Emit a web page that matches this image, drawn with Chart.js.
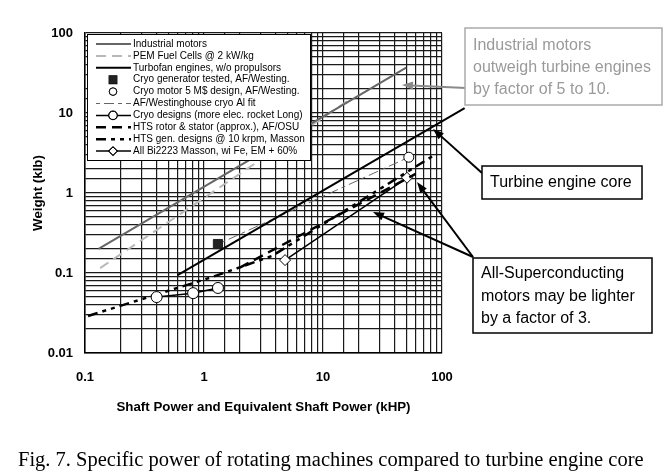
<!DOCTYPE html>
<html>
<head>
<meta charset="utf-8">
<script src="https://cdn.jsdelivr.net/npm/chart.js@4.4.1/dist/chart.umd.min.js"></script>
<style>
  body { margin: 0; background: #fff; }
  canvas { display: block; }
</style>
</head>
<body>
<canvas id="chart" width="671" height="476"></canvas>
<script>
'use strict';

// values (x: kHP, y: klb)
const industrialX = [0.13, 50];
const industrialY = [0.2, 37];
const pemX = [0.134, 17.5];
const pemY = [0.115, 15.4];
const turbofanX = [0.6, 155];
const turbofanY = [0.094, 11.5];
const cryoGenX = [1.31];
const cryoGenY = [0.23];
const cryoMotorX = [52.6];
const cryoMotorY = [2.8];
const afFitX = [1.4, 52.6];
const afFitY = [0.24, 2.8];
const cryoDesignX = [0.4, 0.81, 1.31];
const cryoDesignY = [0.05, 0.056, 0.065];
const htsRotorX = [2.0, 60];
const htsRotorY = [0.117, 1.73];
const htsGenX = [0.106, 1.17, 3.72, 90];
const htsGenY = [0.029, 0.089, 0.163, 3.1];
const bi2223X = [4.8, 50.8];
const bi2223Y = [0.145, 1.55];

const xTicks = [0.1, 1, 10, 100];
const yTicks = [0.01, 0.1, 1, 10, 100];

const seriesNames = [
  'Industrial motors',
  'PEM Fuel Cells @ 2 kW/kg',
  'Turbofan engines, w/o propulsors',
  'Cryo generator tested, AF/Westing.',
  'Cryo motor 5 M$ design, AF/Westing.',
  'AF/Westinghouse cryo Al fit',
  'Cryo designs (more elec. rocket Long)',
  'HTS rotor & stator (approx.), AF/OSU',
  'HTS gen. designs @ 10 krpm, Masson',
  'All Bi2223 Masson, wi Fe, EM + 60%'
];

function pts(xs, ys) {
  return xs.map((x, i) => ({ x: x, y: ys[i] }));
}

const SANS = '"Liberation Sans", Arial, sans-serif';

// legend drawn inside the plot, over the lines
const legendBox = {
  id: 'legendBox',
  afterDatasetsDraw(chart) {
    const ctx = chart.ctx;
    const bx = 87, by = 34, bw = 223, bh = 126;
    ctx.save();
    ctx.fillStyle = '#fff';
    ctx.fillRect(bx, by, bw, bh);
    ctx.strokeStyle = '#000';
    ctx.lineWidth = 1;
    ctx.strokeRect(bx + 0.5, by + 0.5, bw, bh);
    ctx.font = '10px ' + SANS;
    ctx.textBaseline = 'middle';
    chart.data.datasets.forEach((ds, i) => {
      const y = by + 10 + i * 11.9;
      if (ds.showLine !== false) {
        ctx.strokeStyle = ds.borderColor;
        ctx.lineWidth = ds.borderWidth;
        ctx.setLineDash(ds.borderDash || []);
        ctx.beginPath();
        ctx.moveTo(96, y);
        ctx.lineTo(131, y);
        ctx.stroke();
        ctx.setLineDash([]);
      }
      if (ds.pointRadius > 0) {
        Chart.helpers.drawPoint(ctx, {
          pointStyle: ds.pointStyle,
          radius: ds.pointRadius * 0.75,
          borderWidth: 1,
          rotation: 0
        }, 113, y);
        ctx.fillStyle = ds.pointBackgroundColor;
        ctx.strokeStyle = ds.pointBorderColor;
        ctx.lineWidth = 1;
        ctx.fill();
        ctx.stroke();
      }
      ctx.fillStyle = '#000';
      ctx.fillText(ds.label, 133, y);
    });
    ctx.restore();
  }
};

function arrow(ctx, x1, y1, x2, y2, color, w) {
  const a = Math.atan2(y2 - y1, x2 - x1);
  const len = 11, hw = 4;
  ctx.strokeStyle = color;
  ctx.fillStyle = color;
  ctx.lineWidth = w;
  ctx.beginPath();
  ctx.moveTo(x1, y1);
  ctx.lineTo(x2 - Math.cos(a) * len * 0.8, y2 - Math.sin(a) * len * 0.8);
  ctx.stroke();
  ctx.beginPath();
  ctx.moveTo(x2, y2);
  ctx.lineTo(x2 - Math.cos(a) * len + Math.sin(a) * hw, y2 - Math.sin(a) * len - Math.cos(a) * hw);
  ctx.lineTo(x2 - Math.cos(a) * len - Math.sin(a) * hw, y2 - Math.sin(a) * len + Math.cos(a) * hw);
  ctx.closePath();
  ctx.fill();
}

function textBox(ctx, x, y, w, h, lines, color, border) {
  ctx.fillStyle = '#fff';
  ctx.fillRect(x, y, w, h);
  ctx.strokeStyle = border;
  ctx.lineWidth = 1.5;
  ctx.strokeRect(x, y, w, h);
  ctx.fillStyle = color;
  ctx.font = '16px ' + SANS;
  ctx.textBaseline = 'middle';
  lines.forEach((t) => ctx.fillText(t[0], x + 8, t[1]));
}

// call-out boxes, arrows and the figure caption
const notes = {
  id: 'notes',
  afterDraw(chart) {
    const ctx = chart.ctx;
    ctx.save();
    arrow(ctx, 466, 88, 402, 85, '#8a8a8a', 2);
    arrow(ctx, 482, 173, 433, 129, '#000', 2);
    arrow(ctx, 473, 257, 417, 182, '#000', 2);
    arrow(ctx, 473, 257, 373, 212, '#000', 2);
    textBox(ctx, 465, 28, 197, 77,
      [['Industrial motors', 46], ['outweigh turbine engines', 68], ['by factor of 5 to 10.', 90]],
      '#9a9a9a', '#aaa');
    textBox(ctx, 482, 166, 160, 33, [['Turbine engine core', 183]], '#000', '#000');
    textBox(ctx, 473, 258, 179, 75,
      [['All-Superconducting', 274], ['motors may be lighter', 297], ['by a factor of 3.', 319]],
      '#000', '#000');
    ctx.fillStyle = '#000';
    ctx.font = '20.5px "Liberation Serif", "Times New Roman", serif';
    ctx.textBaseline = 'middle';
    ctx.fillText('Fig. 7. Specific power of rotating machines compared to turbine engine core', 18, 461);
    ctx.restore();
  }
};

function isDecade(v) {
  const l = Math.log10(v);
  return Math.abs(l - Math.round(l)) < 1e-6;
}

const lineDefaults = { showLine: true, pointRadius: 0, fill: false, tension: 0 };

const datasets = [
  Object.assign({}, lineDefaults, { data: pts(industrialX, industrialY), borderColor: '#666', borderWidth: 2 }),
  Object.assign({}, lineDefaults, { data: pts(pemX, pemY), borderColor: '#b8b8b8', borderWidth: 2, borderDash: [10, 6] }),
  Object.assign({}, lineDefaults, { data: pts(turbofanX, turbofanY), borderColor: '#000', borderWidth: 2, clip: false }),
  { data: pts(cryoGenX, cryoGenY), showLine: false, pointStyle: 'rect', pointRadius: 6.5,
    pointBackgroundColor: '#222', pointBorderColor: '#222', borderColor: '#222', borderWidth: 1 },
  { data: pts(cryoMotorX, cryoMotorY), showLine: false, pointStyle: 'circle', pointRadius: 5,
    pointBackgroundColor: '#fff', pointBorderColor: '#000', borderColor: '#000', borderWidth: 1 },
  Object.assign({}, lineDefaults, { data: pts(afFitX, afFitY), borderColor: '#666', borderWidth: 1, borderDash: [4, 4, 10, 4] }),
  Object.assign({}, lineDefaults, { data: pts(cryoDesignX, cryoDesignY), borderColor: '#000', borderWidth: 1.5,
    pointStyle: 'circle', pointRadius: 5.5, pointBackgroundColor: '#fff', pointBorderColor: '#000', pointBorderWidth: 1 }),
  Object.assign({}, lineDefaults, { data: pts(htsRotorX, htsRotorY), borderColor: '#000', borderWidth: 2.5, borderDash: [10, 6] }),
  Object.assign({}, lineDefaults, { data: pts(htsGenX, htsGenY), borderColor: '#000', borderWidth: 2.5, borderDash: [10, 5, 4, 5, 4, 5] }),
  Object.assign({}, lineDefaults, { data: pts(bi2223X, bi2223Y), borderColor: '#000', borderWidth: 1.5,
    pointStyle: 'rectRot', pointRadius: 5.5, pointBackgroundColor: '#fff', pointBorderColor: '#000', pointBorderWidth: 1 })
];
datasets.forEach((d, i) => { d.label = seriesNames[i]; });

const tickFont = { family: SANS, size: 13, weight: 'bold' };
const titleFont = { family: SANS, size: 13.3, weight: 'bold' };

new Chart(document.getElementById('chart'), {
  type: 'scatter',
  data: { datasets: datasets },
  options: {
    responsive: false,
    animation: false,
    layout: { padding: { left: 0, right: 229, top: 33, bottom: 53 } },
    plugins: { legend: { display: false }, tooltip: { enabled: false } },
    scales: {
      x: {
        type: 'logarithmic',
        min: 0.1,
        max: 100,
        afterFit: (s) => { s.height = 70; },
        grid: { color: '#1a1a1a', lineWidth: 1.2, drawTicks: false },
        border: { color: '#000', width: 1.5 },
        ticks: {
          autoSkip: false, maxRotation: 0, padding: 17, color: '#000', font: tickFont,
          callback: (v) => (isDecade(v) && xTicks.includes(Number(v.toPrecision(3)))) ? String(Number(v.toPrecision(3))) : ''
        },
        title: { display: true, text: 'Shaft Power and Equivalent Shaft Power (kHP)', color: '#000',
          font: titleFont, padding: { bottom: 8 } }
      },
      y: {
        type: 'logarithmic',
        min: 0.01,
        max: 100,
        afterFit: (s) => { s.width = 85; },
        grid: { color: '#1a1a1a', lineWidth: 1.2, drawTicks: false },
        border: { color: '#000', width: 1.5 },
        ticks: {
          autoSkip: false, padding: 12, color: '#000', font: tickFont,
          callback: (v) => (isDecade(v) && yTicks.includes(Number(v.toPrecision(3)))) ? String(Number(v.toPrecision(3))) : ''
        },
        title: { display: true, text: 'Weight (klb)', color: '#000',
          font: titleFont, padding: { top: 30 } }
      }
    }
  },
  plugins: [legendBox, notes]
});
</script>
</body>
</html>
